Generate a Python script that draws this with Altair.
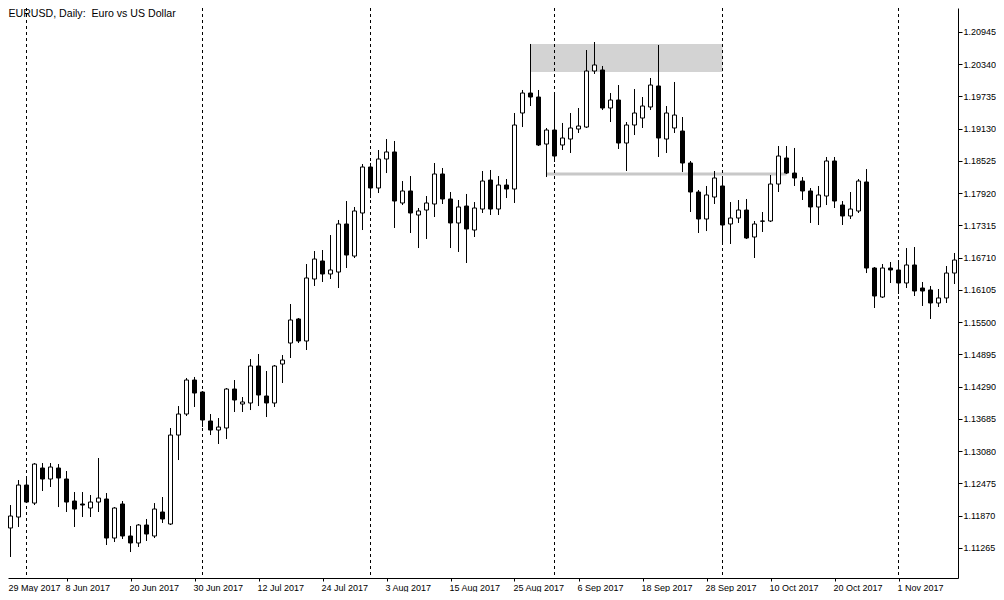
import altair as alt
import pandas as pd

# ---------------- data ----------------
bar_index = list(range(120))

open_ = [
    1.11771, 1.11640, 1.11846, 1.12446, 1.12108, 1.12765, 1.12559, 1.12765, 1.12559, 1.12146,
    1.12090, 1.12015, 1.12127, 1.12184, 1.11452, 1.12090, 1.11490, 1.11359, 1.11696, 1.11490,
    1.11940, 1.11715, 1.13384, 1.13778, 1.14416, 1.14191, 1.13647, 1.13478, 1.13516, 1.14247,
    1.13966, 1.13985, 1.14679, 1.14116, 1.13985, 1.14716, 1.15110, 1.15561, 1.15148, 1.16311,
    1.16649, 1.16405, 1.16442, 1.17343, 1.16742, 1.17549, 1.18412, 1.18018, 1.18562, 1.18694,
    1.17737, 1.17962, 1.17512, 1.17605, 1.17718, 1.18281, 1.17812, 1.17362, 1.17680, 1.17230,
    1.17624, 1.18168, 1.17624, 1.18074, 1.17999, 1.19425, 1.19800, 1.19725, 1.18843, 1.19106,
    1.18825, 1.18937, 1.19125, 1.19162, 1.20213, 1.20232, 1.19519, 1.19669, 1.18862, 1.19200,
    1.19331, 1.19538, 1.19932, 1.18937, 1.19144, 1.19087, 1.18487, 1.17943, 1.17437, 1.17849,
    1.18056, 1.17343, 1.17455, 1.17605, 1.17099, 1.17399, 1.17399, 1.18093, 1.18581, 1.18299,
    1.18149, 1.17962, 1.17662, 1.17868, 1.18525, 1.17699, 1.17493, 1.17587, 1.18131, 1.16517,
    1.15973, 1.16517, 1.16480, 1.16236, 1.16574, 1.16142, 1.16105, 1.15861, 1.15955, 1.16423,
]
high = [
    1.11865, 1.12071, 1.12540, 1.12559, 1.12859, 1.12859, 1.12859, 1.12840, 1.12709, 1.12315,
    1.12315, 1.12259, 1.12953, 1.12296, 1.12033, 1.12146, 1.11677, 1.11715, 1.11809, 1.12108,
    1.12221, 1.13516, 1.13928, 1.14454, 1.14473, 1.14210, 1.13778, 1.13703, 1.14266, 1.14416,
    1.14097, 1.14810, 1.14904, 1.14585, 1.14698, 1.14885, 1.15842, 1.15579, 1.16592, 1.16836,
    1.16855, 1.17136, 1.17418, 1.17774, 1.17662, 1.18468, 1.18487, 1.18731, 1.18937, 1.18900,
    1.18149, 1.18243, 1.17643, 1.17868, 1.18487, 1.18393, 1.17943, 1.17793, 1.17906, 1.17755,
    1.18337, 1.18356, 1.18243, 1.18187, 1.19425, 1.19857, 1.20720, 1.19857, 1.19144, 1.19781,
    1.19238, 1.19425, 1.19519, 1.20607, 1.20757, 1.20307, 1.19800, 1.19950, 1.19256, 1.19875,
    1.19725, 1.20082, 1.20701, 1.19556, 1.20007, 1.19350, 1.18525, 1.17981, 1.18056, 1.18337,
    1.18206, 1.17755, 1.17793, 1.17812, 1.17399, 1.17568, 1.18262, 1.18806, 1.18806, 1.18769,
    1.18224, 1.18018, 1.18056, 1.18600, 1.18600, 1.17774, 1.17943, 1.18187, 1.18374, 1.16536,
    1.16592, 1.16630, 1.16630, 1.16892, 1.16911, 1.16255, 1.16180, 1.16123, 1.16555, 1.16799,
]
low = [
    1.11602, 1.11096, 1.11659, 1.12108, 1.12071, 1.12334, 1.12409, 1.12033, 1.11940, 1.11659,
    1.11846, 1.11846, 1.11940, 1.11321, 1.11377, 1.11434, 1.11189, 1.11284, 1.11396, 1.11452,
    1.11734, 1.11696, 1.12915, 1.13741, 1.13910, 1.13534, 1.13384, 1.13216, 1.13309, 1.13816,
    1.13816, 1.13853, 1.13928, 1.13722, 1.13910, 1.14360, 1.14829, 1.15110, 1.14979, 1.16180,
    1.16255, 1.16311, 1.16142, 1.16517, 1.16705, 1.17230, 1.17830, 1.17924, 1.18299, 1.17268,
    1.17699, 1.17174, 1.16892, 1.17061, 1.17474, 1.17718, 1.16892, 1.16818, 1.16611, 1.17099,
    1.17549, 1.17512, 1.17512, 1.17830, 1.17737, 1.19162, 1.19556, 1.18806, 1.18224, 1.18506,
    1.18731, 1.18675, 1.19050, 1.19144, 1.20157, 1.19481, 1.19256, 1.18750, 1.18337, 1.19012,
    1.19144, 1.19481, 1.18600, 1.18675, 1.19050, 1.18318, 1.17568, 1.17174, 1.17211, 1.17718,
    1.16968, 1.16968, 1.17362, 1.17061, 1.16705, 1.17193, 1.17380, 1.17943, 1.18281, 1.18056,
    1.17793, 1.17362, 1.17324, 1.17699, 1.17643, 1.17324, 1.17437, 1.17549, 1.16423, 1.15767,
    1.15955, 1.16236, 1.16030, 1.16142, 1.15992, 1.15805, 1.15561, 1.15786, 1.15861, 1.16217,
]
close = [
    1.11640, 1.11865, 1.12446, 1.12127, 1.12840, 1.12559, 1.12784, 1.12578, 1.12127, 1.11996,
    1.12071, 1.12127, 1.12202, 1.11452, 1.12015, 1.11490, 1.11359, 1.11696, 1.11527, 1.11996,
    1.11809, 1.13384, 1.13778, 1.14416, 1.14172, 1.13666, 1.13478, 1.13534, 1.14247, 1.14041,
    1.14004, 1.14679, 1.14135, 1.13985, 1.14679, 1.14791, 1.15542, 1.15148, 1.16330, 1.16686,
    1.16405, 1.16480, 1.17343, 1.16761, 1.17587, 1.18412, 1.18018, 1.18562, 1.18694, 1.17774,
    1.17962, 1.17549, 1.17587, 1.17737, 1.18281, 1.17812, 1.17362, 1.17662, 1.17249, 1.17643,
    1.18149, 1.17624, 1.18074, 1.17999, 1.19200, 1.19800, 1.19725, 1.18825, 1.19106, 1.18618,
    1.18956, 1.19144, 1.19181, 1.20213, 1.20326, 1.19519, 1.19669, 1.18862, 1.19200, 1.19425,
    1.19556, 1.19950, 1.18956, 1.19425, 1.19387, 1.18487, 1.17943, 1.17437, 1.17887, 1.18206,
    1.17324, 1.17455, 1.17605, 1.17080, 1.17343, 1.17395, 1.18093, 1.18618, 1.18299, 1.18206,
    1.17962, 1.17662, 1.17887, 1.18525, 1.17774, 1.17493, 1.17624, 1.18149, 1.16517, 1.15992,
    1.16517, 1.16480, 1.16236, 1.16574, 1.16086, 1.16086, 1.15861, 1.15955, 1.16423, 1.16667,
]

month_sep_idx = [3, 25, 46, 69, 90, 112]

date_tick_idx = [0, 8, 16, 24, 32, 40, 48, 56, 64, 72, 80, 88, 96, 104, 112]
date_tick_lbl = ["29 May 2017", "8 Jun 2017", "20 Jun 2017", "30 Jun 2017",
                 "12 Jul 2017", "24 Jul 2017", "3 Aug 2017", "15 Aug 2017",
                 "25 Aug 2017", "6 Sep 2017", "18 Sep 2017", "28 Sep 2017",
                 "10 Oct 2017", "20 Oct 2017", "1 Nov 2017"]

price_ticks = [1.11265, 1.11870, 1.12475, 1.13080, 1.13685, 1.14290, 1.14895,
               1.15500, 1.16105, 1.16710, 1.17315, 1.17920, 1.18525, 1.19130,
               1.19735, 1.20340, 1.20945]

zone_idx = [66, 90]
zone_price = [1.20195, 1.20720]
level_idx = [68, 98]
level_price = [1.18281]

title_text = "EURUSD, Daily: \u00a0Euro vs US Dollar"

# ---------------- tables ----------------
candles = pd.DataFrame({"idx": bar_index, "open": open_, "high": high,
                        "low": low, "close": close})
seps = pd.DataFrame({"idx": month_sep_idx})
dates = pd.DataFrame({"idx": date_tick_idx[1:], "lbl": date_tick_lbl[1:]})
first_date = pd.DataFrame({"lbl": date_tick_lbl[:1]})
zone = pd.DataFrame({"x0": [zone_idx[0]], "x1": [zone_idx[1]],
                     "p0": [zone_price[0]], "p1": [zone_price[1]]})
level = pd.DataFrame({"x0": [level_idx[0]], "x1": [level_idx[1]], "p": level_price})
title_df = pd.DataFrame({"t": [title_text]})

FONT = "Liberation Sans"
xs = alt.Scale(domain=[0.6875, 119.4375], nice=False, zero=False, padding=0)
ys = alt.Scale(domain=[1.10702, 1.21395], nice=False, zero=False, padding=0)
x_axis = alt.Axis(orient="bottom", values=date_tick_idx, labels=False, ticks=True,
                  tickSize=3, tickColor="black", domainColor="black", grid=False,
                  title=None)
y_axis = alt.Axis(orient="right", values=price_ticks, format=".5f", grid=False,
                  tickSize=4, tickColor="black", domainColor="black",
                  labelColor="black", labelFont=FONT, labelFontSize=9,
                  labelPadding=1, title=None)


def X(field):
    return alt.X(f"{field}:Q", scale=xs, axis=x_axis)


def Y(field):
    return alt.Y(f"{field}:Q", scale=ys, axis=y_axis)


zone_layer = alt.Chart(zone).mark_rect(color="#d3d3d3").encode(
    x=X("x0"), x2="x1", y=Y("p0"), y2="p1")

level_layer = alt.Chart(level).mark_rule(color="#c8c8c8", strokeWidth=3).encode(
    x=X("x0"), x2="x1", y=Y("p"))

sep_layer = alt.Chart(seps).mark_rule(color="black", strokeWidth=1,
                                      strokeDash=[3, 3]).encode(x=X("idx"))

wick_layer = alt.Chart(candles).mark_rule(color="black", strokeWidth=1).encode(
    x=X("idx"), y=Y("low"), y2="high")

body_layer = alt.Chart(candles).mark_bar(size=4, orient="vertical", stroke="black",
                                         strokeWidth=1).encode(
    x=X("idx"), y=Y("open"), y2="close",
    fill=alt.condition("datum.close >= datum.open", alt.value("white"),
                       alt.value("black")))

date_layer = alt.Chart(dates).mark_text(align="left", baseline="middle", font=FONT,
                                        fontSize=9, color="black", dx=-1).encode(
    x=X("idx"), y=alt.value(580), text="lbl:N")

first_date_layer = alt.Chart(first_date).mark_text(
    align="left", baseline="middle", font=FONT, fontSize=9, color="black").encode(
    x=alt.value(0.5), y=alt.value(580), text="lbl:N")

title_layer = alt.Chart(title_df).mark_text(align="left", baseline="alphabetic",
                                            font=FONT, fontSize=10.6,
                                            color="black").encode(
    x=alt.value(0.5), y=alt.value(8.5), text="t:N")

chart = alt.layer(zone_layer, level_layer, sep_layer, wick_layer, body_layer,
                  date_layer, first_date_layer, title_layer).properties(
    width=950, height=570,
    autosize=alt.AutoSizeParams(type="none"),
    padding={"left": 0, "top": 0, "right": 38, "bottom": 14},
    background="white",
).configure_view(stroke=None)

chart.save("out.html", embed_options={"renderer": "svg", "actions": False})
